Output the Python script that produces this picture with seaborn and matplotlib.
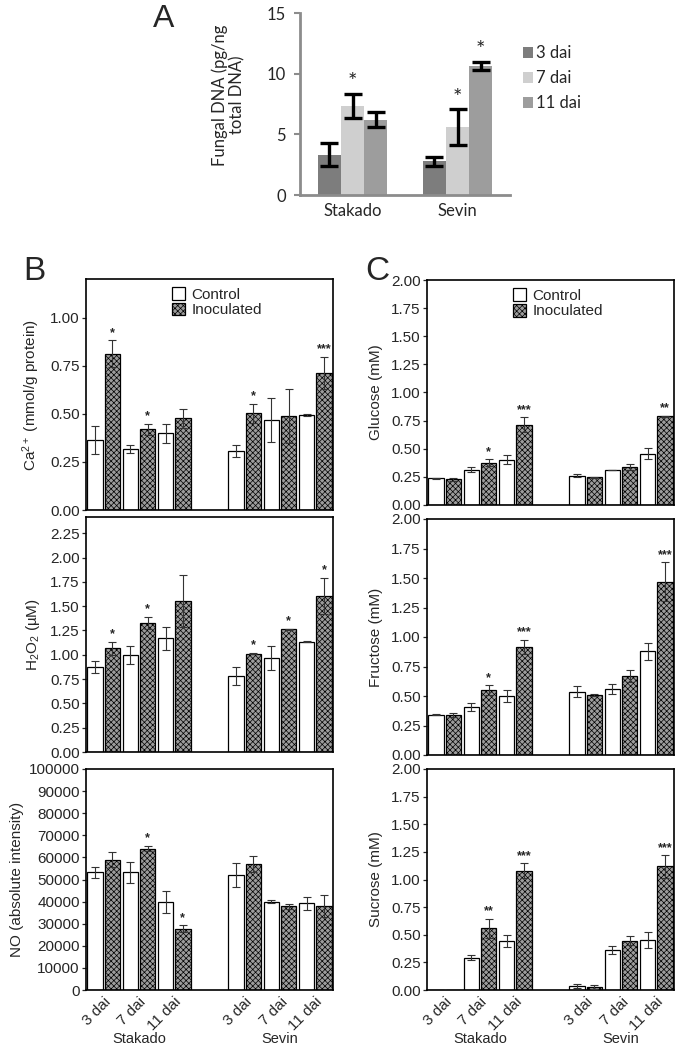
import numpy as np
import pandas as pd
import matplotlib
matplotlib.use("Agg")
import matplotlib.pyplot as plt
from matplotlib.patches import Patch
from matplotlib.container import BarContainer
from matplotlib.ticker import MultipleLocator, FormatStrFormatter
import seaborn as sns

# ---------------- data ----------------
cultivars = ["Stakado", "Sevin"]
times = ["3 dai", "7 dai", "11 dai"]
treatments = ["Control", "Inoculated"]

# A: fungal DNA (Stakado 3/7/11, Sevin 3/7/11)
fungal_dna = [3.3, 7.35, 6.2, 2.8, 5.6, 10.65]
fungal_dna_err = [0.95, 1.0, 0.6, 0.37, 1.45, 0.35]
fungal_dna_sig = ["", "*", "", "", "*", "*"]

# B: Ca2+, H2O2, NO
ca_ctrl = [0.365, 0.316, 0.40, 0.307, 0.469, 0.495]
ca_ctrl_err = [0.073, 0.02, 0.05, 0.03, 0.115, 0.003]
ca_inoc = [0.815, 0.42, 0.477, 0.503, 0.49, 0.713]
ca_inoc_err = [0.068, 0.03, 0.05, 0.05, 0.14, 0.085]
ca_sig = ["*", "*", "", "*", "", "***"]

h2o2_ctrl = [0.875, 0.996, 1.168, 0.78, 0.968, 1.133]
h2o2_ctrl_err = [0.06, 0.095, 0.12, 0.094, 0.124, 0.004]
h2o2_inoc = [1.065, 1.33, 1.552, 1.013, 1.26, 1.607]
h2o2_inoc_err = [0.068, 0.063, 0.265, 0.008, 0.005, 0.185]
h2o2_sig = ["*", "*", "", "*", "*", "*"]

no_ctrl = [53200, 53300, 39800, 52000, 40000, 39200]
no_ctrl_err = [2300, 4800, 4800, 5300, 800, 2800]
no_inoc = [59000, 64000, 27800, 57000, 37800, 38000]
no_inoc_err = [3500, 1200, 1500, 3500, 1000, 5000]
no_sig = ["", "*", "*", "", "", ""]

# C: glucose, fructose, sucrose
glc_ctrl = [0.236, 0.312, 0.404, 0.262, 0.312, 0.457]
glc_ctrl_err = [0.005, 0.022, 0.042, 0.014, 0.003, 0.05]
glc_inoc = [0.227, 0.377, 0.713, 0.245, 0.338, 0.787]
glc_inoc_err = [0.01, 0.028, 0.068, 0.005, 0.027, 0.004]
glc_sig = ["", "*", "***", "", "", "**"]

fru_ctrl = [0.343, 0.408, 0.501, 0.538, 0.56, 0.878]
fru_ctrl_err = [0.005, 0.035, 0.053, 0.05, 0.042, 0.07]
fru_inoc = [0.338, 0.549, 0.915, 0.507, 0.667, 1.47]
fru_inoc_err = [0.02, 0.04, 0.06, 0.01, 0.052, 0.165]
fru_sig = ["", "*", "***", "", "", "***"]

suc_ctrl = [0.0, 0.293, 0.444, 0.036, 0.362, 0.453]
suc_ctrl_err = [0.0, 0.02, 0.057, 0.015, 0.038, 0.07]
suc_inoc = [0.0, 0.559, 1.08, 0.027, 0.447, 1.118]
suc_inoc_err = [0.0, 0.088, 0.068, 0.015, 0.043, 0.1]
suc_sig = ["", "**", "***", "", "", "***"]

slots = [f"{c} {t}" for c in cultivars for t in times]
order = slots[:3] + ["gap"] + slots[3:]

# ---------------- style ----------------
sns.set_style("ticks")
plt.rcParams["font.family"] = ["Liberation Sans", "DejaVu Sans"]
plt.rcParams["mathtext.fontset"] = "custom"
plt.rcParams["mathtext.rm"] = "Liberation Sans"
plt.rcParams["mathtext.it"] = "Liberation Sans:italic"
plt.rcParams["mathtext.bf"] = "Liberation Sans:bold"
plt.rcParams["hatch.linewidth"] = 0.5

W, H = 676, 1046
fig = plt.figure(figsize=(W / 100, H / 100), dpi=100)


def px_axes(left, top, right, bottom):
    return fig.add_axes([left / W, 1 - bottom / H, (right - left) / W, (bottom - top) / H])


def bar_containers(ax):
    return [c for c in ax.containers if isinstance(c, BarContainer)]


inoc_face = "#9c9c9c"
inoc_hatch = "xxxxxx"


def measure_panel(ax, ctrl, ctrl_err, inoc, inoc_err, sig, ylim, step, fmt, ylabel,
                  label_x=-0.18, bottom=False, legend=False):
    df = pd.DataFrame({
        "slot": slots * 2,
        "treatment": np.repeat(treatments, 6),
        "value": ctrl + inoc,
        "err": ctrl_err + inoc_err,
    })
    sns.barplot(data=df, x="slot", y="value", hue="treatment", order=order,
                hue_order=treatments, palette={"Control": "white", "Inoculated": inoc_face},
                edgecolor="black", linewidth=0.9, width=0.98, gap=0.1,
                errorbar=None, legend=False, ax=ax)
    for i, cont in enumerate(bar_containers(ax)):
        bars = sorted(cont, key=lambda p: p.get_x())
        sub = df[df["treatment"] == treatments[i]].reset_index(drop=True)
        for j, bar in enumerate(bars):
            if i == 1:
                bar.set_hatch(inoc_hatch)
            val, err = sub.loc[j, "value"], sub.loc[j, "err"]
            if val <= 0:
                continue
            xc = bar.get_x() + bar.get_width() / 2
            ax.errorbar(xc, val, yerr=err, color="#333333", lw=0.8,
                        capsize=3.2, capthick=0.8, zorder=4)
            if i == 1 and sig[j]:
                ax.annotate(sig[j], xy=(xc, val + err), xytext=(0, 1),
                            textcoords="offset points", ha="center", va="bottom",
                            fontsize=9, fontweight="bold")
    ax.set_xlim(-0.5, 6.5)
    ax.set_ylim(*ylim)
    ax.yaxis.set_major_locator(MultipleLocator(step))
    ax.yaxis.set_major_formatter(FormatStrFormatter(fmt))
    ax.tick_params(axis="y", labelsize=11, length=3, width=0.9, pad=1.5)
    ax.tick_params(axis="x", length=0)
    for s in ax.spines.values():
        s.set_visible(True)
        s.set_color("black")
        s.set_linewidth(1.2)
    ax.set_xlabel("")
    ax.set_ylabel(ylabel, fontsize=11)
    ax.yaxis.set_label_coords(label_x, 0.5)
    if bottom:
        labels = [s.split(" ", 1)[1] if s != "gap" else "" for s in order]
        ax.set_xticks(range(len(order)))
        ax.set_xticklabels(labels, rotation=45, ha="right", rotation_mode="anchor", fontsize=11)
        for xg, name in [(1, cultivars[0]), (5, cultivars[1])]:
            ax.text(xg, -0.222, name, transform=ax.get_xaxis_transform(),
                    ha="center", va="center", fontsize=10.5)
    else:
        ax.set_xticklabels([])
    if legend:
        handles = [Patch(facecolor="white", edgecolor="black", linewidth=0.9),
                   Patch(facecolor=inoc_face, edgecolor="black", linewidth=0.9, hatch=inoc_hatch)]
        ax.legend(handles, treatments, loc="upper center", bbox_to_anchor=(0.53, 1.01),
                  frameon=False, fontsize=11, handlelength=0.9, handleheight=0.9,
                  handletextpad=0.4, labelspacing=0.05, borderpad=0.2)


# ---------------- panel A ----------------
axA = px_axes(300, 13, 510, 195)
dfA = pd.DataFrame({"cultivar": np.repeat(cultivars, 3), "time": times * 2,
                    "value": fungal_dna, "err": fungal_dna_err, "sig": fungal_dna_sig})
colA = {"3 dai": "#7d7d7d", "7 dai": "#cfcfcf", "11 dai": "#9d9d9d"}
sns.barplot(data=dfA, x="cultivar", y="value", hue="time", order=cultivars, hue_order=times,
            palette=colA, width=0.66, gap=0, linewidth=0, errorbar=None, ax=axA)
for i, cont in enumerate(bar_containers(axA)):
    bars = sorted(cont, key=lambda p: p.get_x())
    for j, bar in enumerate(bars):
        row = dfA[(dfA["cultivar"] == cultivars[j]) & (dfA["time"] == times[i])].iloc[0]
        xc = bar.get_x() + bar.get_width() / 2
        axA.errorbar(xc, row["value"], yerr=row["err"], color="black", lw=2.4,
                     capsize=6.5, capthick=2.4, zorder=4)
        if row["sig"]:
            axA.annotate(row["sig"], xy=(xc, row["value"] + row["err"]), xytext=(0, 1),
                         textcoords="offset points", ha="center", va="bottom",
                         fontsize=16, family=["Lato", "DejaVu Sans"])
axA.set_xlim(-0.5, 1.5)
axA.set_ylim(0, 15)
axA.yaxis.set_major_locator(MultipleLocator(5))
sns.despine(ax=axA)
for s in ["left", "bottom"]:
    axA.spines[s].set_color("#8c8c8c")
    axA.spines[s].set_linewidth(2)
axA.tick_params(axis="y", length=4, width=1.5, color="#8c8c8c", labelsize=12, pad=6)
axA.tick_params(axis="x", length=0, labelsize=12, pad=6)
for t in axA.get_xticklabels() + axA.get_yticklabels():
    t.set_family(["Lato", "DejaVu Sans"])
axA.set_xlabel("")
axA.set_ylabel("Fungal DNA (pg/ng\ntotal DNA)", fontsize=12, family=["Lato", "DejaVu Sans"],
               linespacing=1.05)
axA.yaxis.set_label_coords(-0.262, 0.55)
hA, lA = axA.get_legend_handles_labels()
axA.legend(hA, lA, loc="upper left", bbox_to_anchor=(1.03, 0.86), frameon=False,
           prop={"family": ["Lato", "DejaVu Sans"], "size": 12}, handlelength=0.6,
           handleheight=0.6, handletextpad=0.2, labelspacing=0.55, borderaxespad=0)
fig.text(153 / W, 1 - 27 / H, "A", fontsize=23, ha="left", va="baseline")

# ---------------- panel B ----------------
axB1 = px_axes(86, 279, 333, 510)
axB2 = px_axes(86, 517, 333, 752)
axB3 = px_axes(86, 769, 333, 990)
measure_panel(axB1, ca_ctrl, ca_ctrl_err, ca_inoc, ca_inoc_err, ca_sig, (0, 1.203), 0.25,
              "%.2f", r"Ca$^{2+}$ (mmol/g protein)", legend=True)
measure_panel(axB2, h2o2_ctrl, h2o2_ctrl_err, h2o2_inoc, h2o2_inoc_err, h2o2_sig, (0, 2.417),
              0.25, "%.2f", r"H$_2$O$_2$ (µM)")
measure_panel(axB3, no_ctrl, no_ctrl_err, no_inoc, no_inoc_err, no_sig, (0, 100000), 10000,
              "%d", "NO (absolute intensity)", label_x=-0.25, bottom=True)
fig.text(23 / W, 1 - 280 / H, "B", fontsize=24, ha="left", va="baseline")

# ---------------- panel C ----------------
axC1 = px_axes(427, 280, 674, 505)
axC2 = px_axes(427, 519, 674, 755)
axC3 = px_axes(427, 769, 674, 990)
measure_panel(axC1, glc_ctrl, glc_ctrl_err, glc_inoc, glc_inoc_err, glc_sig, (0, 2), 0.25,
              "%.2f", "Glucose (mM)", legend=True)
measure_panel(axC2, fru_ctrl, fru_ctrl_err, fru_inoc, fru_inoc_err, fru_sig, (0, 2), 0.25,
              "%.2f", "Fructose (mM)")
measure_panel(axC3, suc_ctrl, suc_ctrl_err, suc_inoc, suc_inoc_err, suc_sig, (0, 2), 0.25,
              "%.2f", "Sucrose (mM)", bottom=True)
fig.text(365 / W, 1 - 280 / H, "C", fontsize=24, ha="left", va="baseline")

fig.savefig("out.png", dpi=100)
